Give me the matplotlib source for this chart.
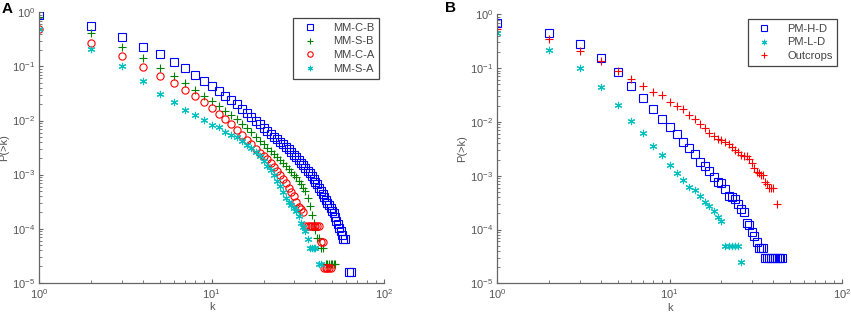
import matplotlib
matplotlib.use('Agg')
import matplotlib.pyplot as plt
from matplotlib.ticker import LogLocator, LogFormatterSciNotation, NullFormatter

plt.rcParams['font.family'] = ['Liberation Sans', 'DejaVu Sans']
plt.rcParams['mathtext.fontset'] = 'custom'
plt.rcParams['mathtext.rm'] = 'Liberation Sans'
plt.rcParams['mathtext.default'] = 'regular'

# ---- panel A data: P(>k) ----
k_mmcb = list(range(1, 60)) + [63, 64]
p_mmcb = [0.906, 0.560, 0.347, 0.232, 0.168, 0.121, 0.0925, 0.0697, 0.0540, 0.0437,
          0.0358, 0.0290, 0.0240, 0.0200, 0.0166, 0.0138, 0.0117, 0.0100, 0.00851, 0.00741,
          0.00631, 0.00562, 0.00501, 0.00457, 0.00407, 0.00363, 0.00324, 0.00295, 0.00263, 0.00234,
          0.00209, 0.00186, 0.00166, 0.00148, 0.00132, 0.00117, 0.00105, 0.000933, 0.000832, 0.000741,
          0.000661, 0.000575, 0.000501, 0.000437, 0.000380, 0.000339, 0.000302, 0.000269, 0.000240, 0.000214,
          0.000195, 0.000166, 0.000141, 0.000120, 0.000102, 8.9e-5, 7.6e-5, 6.3e-5, 6.3e-5,
          1.6e-5, 1.6e-5]

k_mmsb = list(range(1, 45)) + list(range(46, 53))
p_mmsb = [0.832, 0.422, 0.232, 0.146, 0.0955, 0.0661, 0.0501, 0.0368, 0.0285, 0.0231,
          0.0184, 0.0151, 0.0126, 0.0105, 0.00871, 0.00724, 0.00603, 0.00501, 0.00427, 0.00363,
          0.00316, 0.00275, 0.00240, 0.00209, 0.00186, 0.00166, 0.00145, 0.00129, 0.00112, 0.00100,
          0.000891, 0.000776, 0.000676, 0.000575, 0.000490, 0.000372, 0.000257, 0.000178, 0.000129, 9.3e-5,
          6.8e-5, 6.8e-5, 4.4e-5, 4.4e-5,
          2.2e-5, 2.2e-5, 2.2e-5, 2.2e-5, 2.2e-5, 2.2e-5, 2.2e-5]

k_mmca = list(range(1, 50))
p_mmca = [0.492, 0.268, 0.156, 0.0993, 0.0668, 0.0495, 0.0368, 0.0282, 0.0219, 0.0167,
          0.0133, 0.0107, 0.00851, 0.00676, 0.00537, 0.00437, 0.00363, 0.00302, 0.00251, 0.00219,
          0.00191, 0.00162, 0.00138, 0.00117, 0.00100, 0.000832, 0.000692, 0.000575, 0.000479, 0.000398,
          0.000316, 0.000251, 0.000229, 0.000200,
          0.000110, 0.000110, 0.000110, 0.000110, 0.000110, 0.000110, 0.000110, 0.000110,
          5.6e-5, 5.6e-5,
          1.9e-5, 1.9e-5, 1.9e-5, 1.9e-5, 1.9e-5]

k_mmsa = list(range(1, 41)) + [42, 43]
p_mmsa = [0.492, 0.207, 0.101, 0.0532, 0.0310, 0.0219, 0.0158, 0.0127, 0.0102, 0.00832,
          0.00759, 0.00617, 0.00550, 0.00501, 0.00427, 0.00355, 0.00309, 0.00263, 0.00224, 0.00182,
          0.00145, 0.00120, 0.000977, 0.000759, 0.000617, 0.000479, 0.000363, 0.000309, 0.000275, 0.000240,
          0.000209, 0.000174, 0.000126, 0.000105, 8.9e-5, 6.5e-5,
          4.4e-5, 4.4e-5, 4.4e-5, 4.4e-5,
          2.2e-5, 2.2e-5]

# ---- panel B data ----
k_pmhd = list(range(1, 46))
p_pmhd = [0.695, 0.453, 0.279, 0.156, 0.0855, 0.0470, 0.0281, 0.0171, 0.0113, 0.00813,
          0.00589, 0.00427, 0.00331, 0.00257, 0.00182, 0.00151, 0.00123, 0.000955, 0.000776, 0.000724,
          0.000575, 0.000427, 0.000398, 0.000363, 0.000295, 0.000240, 0.000214, 0.000133, 0.000120, 9.1e-5,
          7.6e-5, 5.9e-5, 4.5e-5, 4.5e-5, 4.5e-5,
          3.0e-5, 3.0e-5, 3.0e-5, 3.0e-5, 3.0e-5, 3.0e-5, 3.0e-5, 3.0e-5, 3.0e-5, 3.0e-5]

k_pmld = list(range(1, 27))
p_pmld = [0.44, 0.216, 0.0986, 0.045, 0.0208, 0.0105, 0.0061, 0.00356, 0.00239, 0.00156,
          0.0011, 0.00085, 0.000625, 0.00054, 0.00042, 0.00033, 0.000273, 0.000224, 0.000174, 0.000146,
          4.9e-5, 4.9e-5, 4.9e-5, 4.9e-5, 4.9e-5,
          2.45e-5]

k_outc = list(range(1, 41)) + [42]
p_outc = [0.530, 0.341, 0.207, 0.135, 0.0879, 0.0617, 0.0463, 0.0363, 0.0310, 0.0237,
          0.0197, 0.0171, 0.0134, 0.0111, 0.00933, 0.00759, 0.00631, 0.00550, 0.00490, 0.00468,
          0.00427, 0.00389, 0.00339, 0.00302, 0.00275, 0.00240, 0.00234, 0.00229, 0.00209, 0.00170,
          0.00138, 0.00117, 0.00110, 0.00102, 0.00102, 0.000776, 0.000692,
          0.000600, 0.000600, 0.000600,
          0.000295]

ASTER = (6, 2, 0)
gray = '#555555'

fig = plt.figure(figsize=(8.51, 3.18), dpi=100)
axA = fig.add_axes([0.0464, 0.111, 0.4048, 0.850])
axB = fig.add_axes([0.5844, 0.109, 0.4048, 0.846])


def style(ax):
    ax.set_xscale('log')
    ax.set_yscale('log')
    ax.set_xlim(1, 100)
    ax.set_ylim(1e-5, 1)
    for s in ['top', 'right']:
        ax.spines[s].set_visible(False)
    for s in ['left', 'bottom']:
        ax.spines[s].set_color('#666666')
        ax.spines[s].set_linewidth(0.9)
    ax.xaxis.set_major_locator(LogLocator(base=10, numticks=10))
    ax.yaxis.set_major_locator(LogLocator(base=10, numticks=10))
    ax.xaxis.set_minor_locator(LogLocator(base=10, subs=range(2, 10), numticks=10))
    ax.yaxis.set_minor_locator(LogLocator(base=10, subs=range(2, 10), numticks=10))
    ax.xaxis.set_major_formatter(LogFormatterSciNotation())
    ax.yaxis.set_major_formatter(LogFormatterSciNotation())
    ax.xaxis.set_minor_formatter(NullFormatter())
    ax.yaxis.set_minor_formatter(NullFormatter())
    ax.tick_params(which='both', direction='in', colors='#666666', labelcolor=gray, labelsize=8)
    ax.tick_params(which='major', length=3, width=0.8, pad=3)
    ax.tick_params(which='minor', length=2, width=0.6)
    ax.set_xlabel('k', color=gray, fontsize=8, labelpad=1)
    ax.set_ylabel('P(>k)', color=gray, fontsize=8, labelpad=2)


ms = 5.2
axA.plot(k_mmcb, p_mmcb, 's', ls='none', mfc='none', mec='#0000ff', mew=0.8, ms=ms, label='MM-C-B')
axA.plot(k_mmsb, p_mmsb, '+', ls='none', color='#008000', mew=0.8, ms=ms, label='MM-S-B')
axA.plot(k_mmca, p_mmca, 'o', ls='none', mfc='none', mec='#ff0000', mew=0.8, ms=ms, label='MM-C-A')
axA.plot(k_mmsa, p_mmsa, marker=ASTER, ls='none', color='#00bfbf', mew=0.8, ms=ms, label='MM-S-A')
style(axA)

axB.plot(k_pmhd, p_pmhd, 's', ls='none', mfc='none', mec='#0000ff', mew=0.8, ms=ms, label='PM-H-D')
axB.plot(k_pmld, p_pmld, marker=ASTER, ls='none', color='#00bfbf', mew=0.8, ms=ms, label='PM-L-D')
axB.plot(k_outc, p_outc, '+', ls='none', color='#ff0000', mew=0.8, ms=ms, label='Outcrops')
style(axB)

for ax, anchor in [(axA, (0.9855, 0.979)), (axB, (0.987, 0.982))]:
    leg = ax.legend(loc='upper right', bbox_to_anchor=anchor, fancybox=False, fontsize=8,
                    markerscale=0.75, handlelength=2.2, handletextpad=1.0, labelspacing=0.35,
                    borderpad=0.4, borderaxespad=0, framealpha=1)
    leg.get_frame().set_edgecolor('#444444')
    leg.get_frame().set_linewidth(0.9)
    for t in leg.get_texts():
        t.set_color('#444444')

fig.text(0.002, 0.972, 'A', fontsize=11, fontweight='bold', va='center', ha='left')
fig.text(0.523, 0.975, 'B', fontsize=11, fontweight='bold', va='center', ha='left')

fig.savefig('out.png', dpi=100)
